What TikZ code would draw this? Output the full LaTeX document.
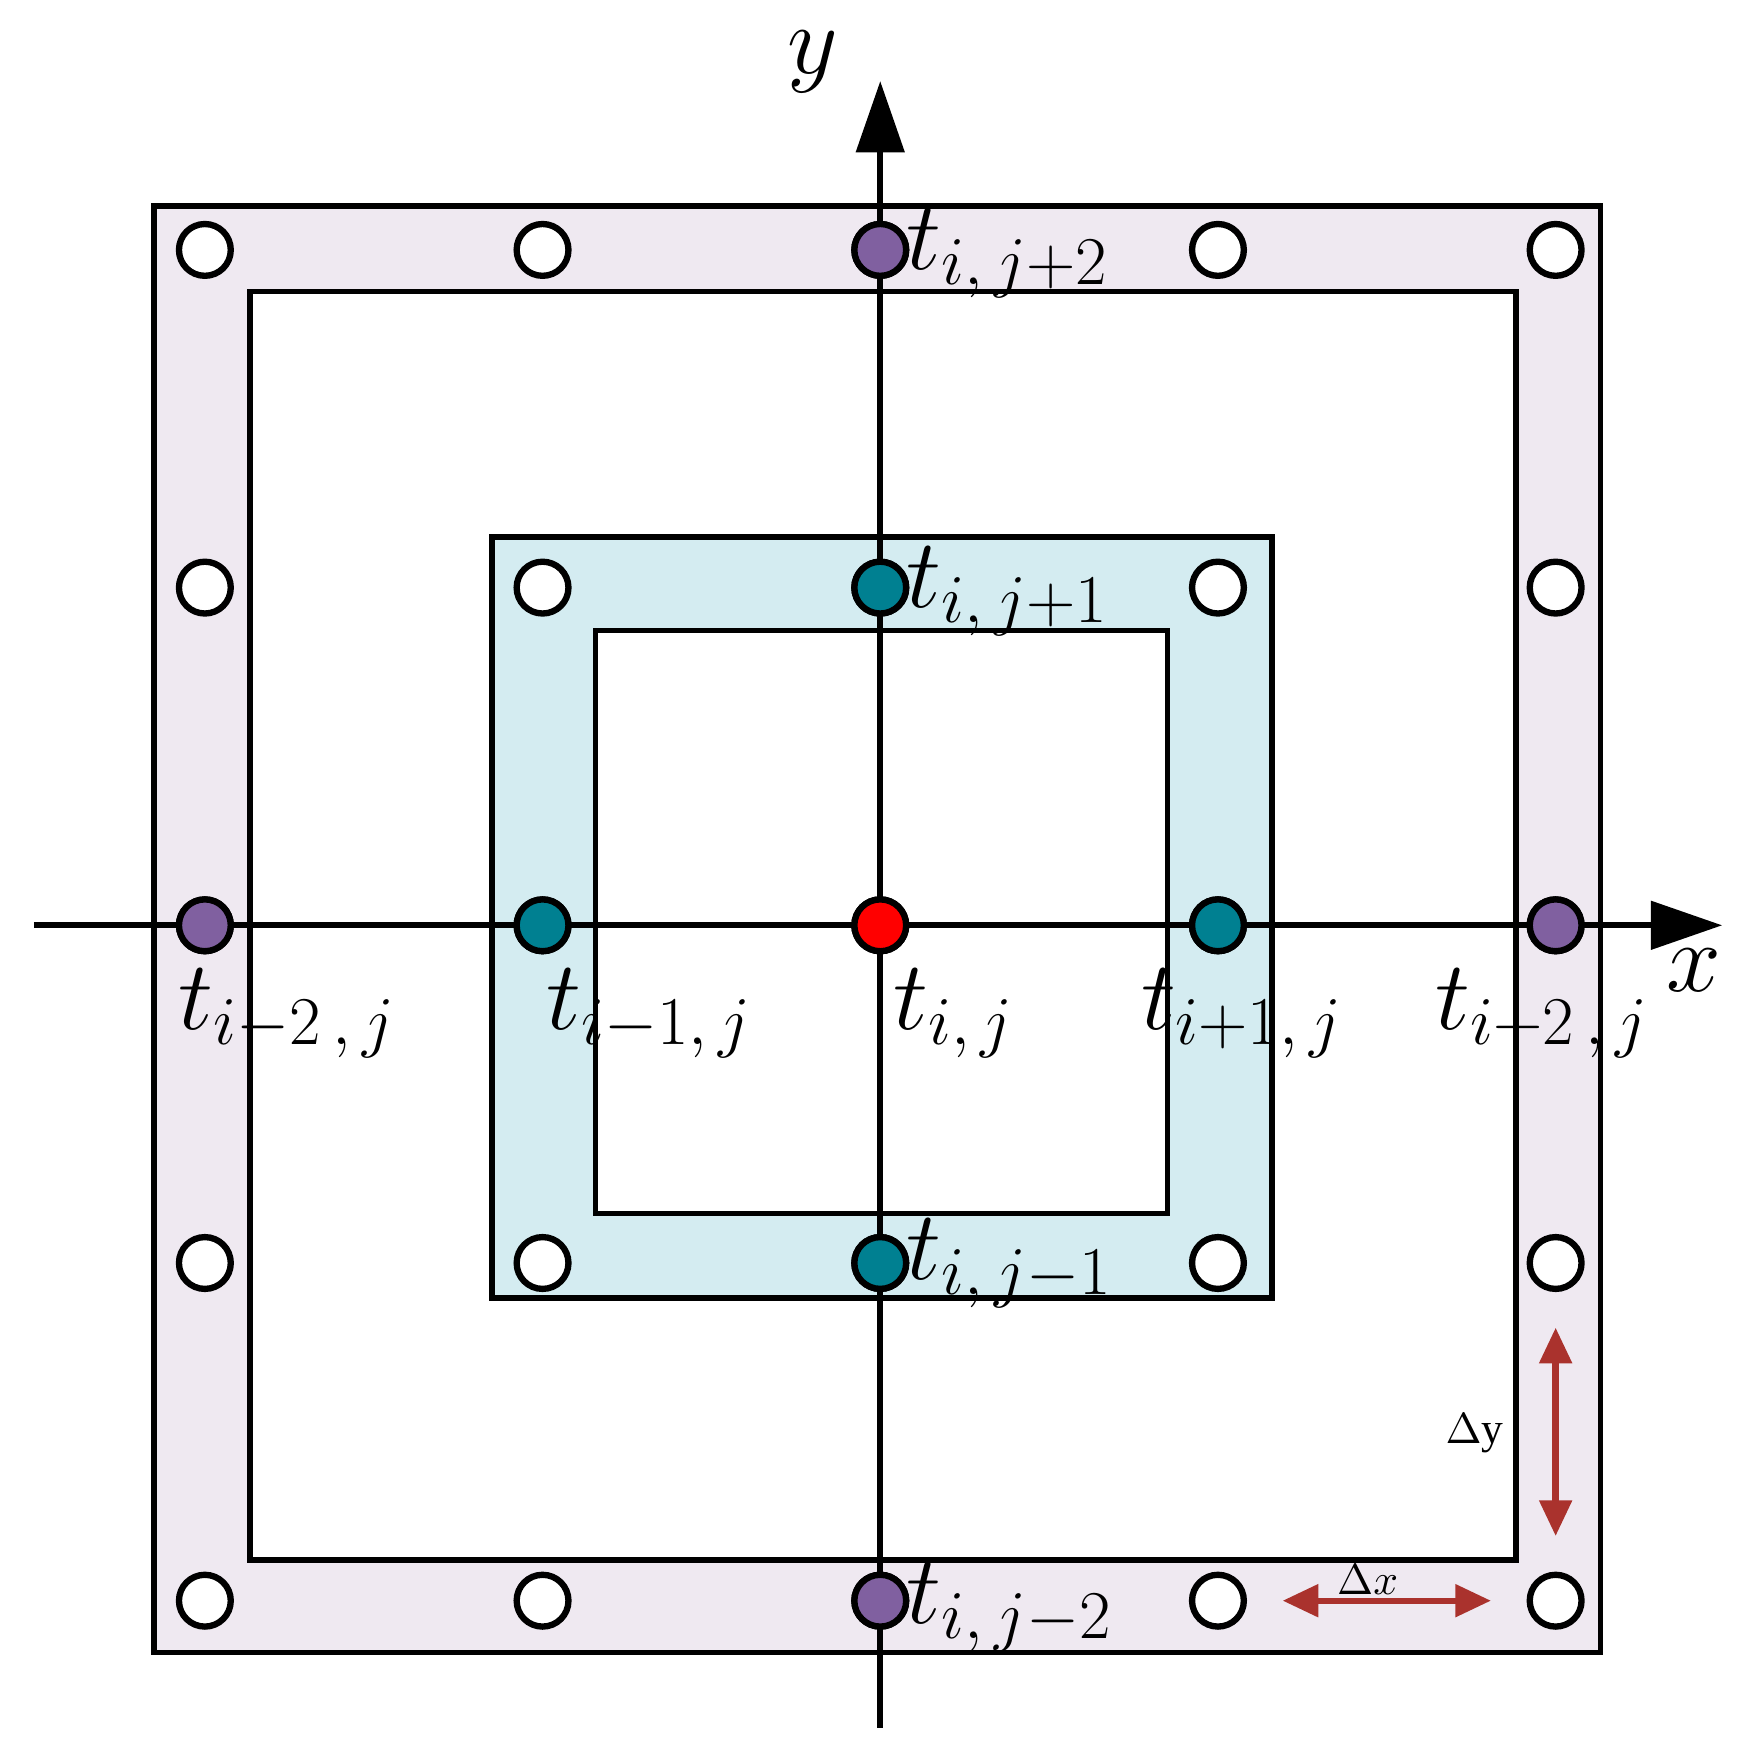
\documentclass[tikz,border=0pt]{standalone}
\usepackage{fontspec}
\setmainfont{Liberation Serif}
\usetikzlibrary{arrows.meta,positioning}
\definecolor{bandouter}{RGB}{239,233,241}
\definecolor{bandinner}{RGB}{212,236,241}
\definecolor{ptpurple}{RGB}{128,96,160}
\definecolor{ptteal}{RGB}{0,128,145}
\definecolor{dimred}{RGB}{170,50,45}
\begin{document}
\begin{tikzpicture}[x=0.01cm,y=-0.01cm,
    pt/.style={circle, draw, line width=1.6pt, minimum size=0.46cm, inner sep=0pt, fill=white},
    lab/.style={font=\fontsize{26}{30}\selectfont, inner sep=0pt},
    dim/.style={dimred, line width=1.6pt, {Triangle[length=9pt,width=8pt]}-{Triangle[length=9pt,width=8pt]}, shorten <=9pt, shorten >=9pt}]
    \useasboundingbox (0,0) rectangle (1560,1556);
    \def\gap{300} % pas de la grille

    % Bandes
    \draw[fill=bandouter, line width=1.4pt] (137,183) rectangle (1422,1468);
    \draw[fill=white, line width=1.4pt] (222,259) rectangle (1347,1386);
    \draw[fill=bandinner, line width=1.4pt] (437,477) rectangle (1130,1153);
    \draw[fill=white, line width=1.4pt] (529,560) rectangle (1037,1078);

    % Axes
    \draw[line width=1.6pt, -{Triangle[length=18pt,width=12pt]}] (30,822) -- (1530,822);
    \draw[line width=1.6pt, -{Triangle[length=18pt,width=12pt]}] (782,1535) -- (782,72);
    \node[lab, font=\fontsize{34}{38}\selectfont] (xlab) at (1505,862) {$x$};
    \node[lab, font=\fontsize{34}{38}\selectfont] (ylab) at (722,55) {$y$};

    % Points de la grille
    \foreach \i in {0,...,4} {
        \foreach \j in {0,...,4} {
            \node[pt] (p\i\j) at (182+\i*\gap, 1422-\j*\gap) {};
        }
    }
    \node[pt, fill=red] at (p22) {};
    \foreach \n in {p12,p32,p21,p23} \node[pt, fill=ptteal] at (\n) {};
    \foreach \n in {p02,p42,p20,p24} \node[pt, fill=ptpurple] at (\n) {};

    % Etiquettes
    \node[lab, anchor=north west] at (805,185) {$t_{i,\,j+2}$};
    \node[lab, anchor=north west] at (805,485) {$t_{i,\,j+1}$};
    \node[lab, anchor=north west] at (805,1082) {$t_{i,\,j\mathrm{-}1}$};
    \node[lab, anchor=north west] at (805,1388) {$t_{i,\,j\mathrm{-}2}$};
    \node[lab, anchor=north west] at (158,860) {$t_{i\mathrm{-}2\,,\,j}$};
    \node[lab, anchor=north west] at (485,860) {$t_{i\mathrm{-}1,\,j}$};
    \node[lab, anchor=north west] at (793,860) {$t_{i,\,j}$};
    \node[lab, anchor=north west] at (1013,860) {$t_{i+1,\,j}$};
    \node[lab, anchor=north west] at (1275,860) {$t_{i+2\,,\,j}$};

    % Pas de la grille
    \draw[dim] (p30) -- (p40);
    \draw[dim] (p41) -- (p40);
    \node[font=\fontsize{11}{13}\selectfont] at (1215,1403) {$\Delta x$};
    \node[font=\fontsize{11}{13}\selectfont] at (1310,1273) {$\Delta$y};
\end{tikzpicture}
\end{document}
